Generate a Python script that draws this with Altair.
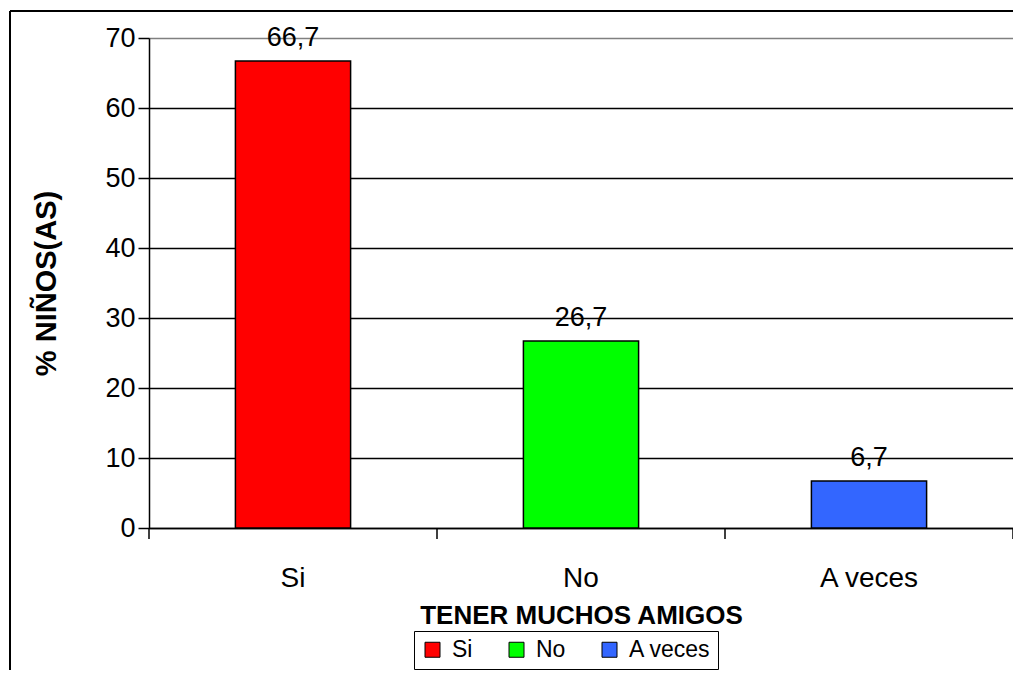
import altair as alt
import pandas as pd

categories = ["Si", "No", "A veces"]
values = [66.7, 26.7, 6.7]
value_labels = ["66,7", "26,7", "6,7"]
colors = ["#FF0000", "#00FF00", "#3366FF"]
y_ticks = [0, 10, 20, 30, 40, 50, 60, 70]
boundaries = [0, 1, 2, 3]

df = pd.DataFrame({"cat": categories, "val": values, "lab": value_labels})
bdf = pd.DataFrame({"b": boundaries})

FONT = "Liberation Sans"
W, H = 864, 490

x_enc = alt.X("cat:N", sort=categories,
              scale=alt.Scale(paddingInner=0, paddingOuter=0),
              axis=alt.Axis(title="TENER MUCHOS AMIGOS", ticks=False, labelAngle=0,
                            labelFontSize=28, labelFont=FONT, labelColor="black",
                            labelBaseline="middle", labelPadding=50,
                            domainColor="black", domainWidth=1.5,
                            titleFont=FONT, titleFontSize=26, titleFontWeight="bold",
                            titleColor="black", titleX=W / 2, titleY=87,
                            titleAlign="center", titleBaseline="middle", grid=False))

y_enc = alt.Y("val:Q",
              scale=alt.Scale(domain=[0, 70], nice=False),
              axis=alt.Axis(title="% NIÑOS(AS)", values=y_ticks, tickSize=11,
                            tickColor="black", tickWidth=1.5,
                            labelFontSize=27, labelFont=FONT, labelColor="black",
                            labelPadding=3, domainColor="black", domainWidth=1.5,
                            grid=True,
                            gridColor={"condition": {"test": "datum.value >= 70", "value": "#808080"},
                                       "value": "black"},
                            gridWidth=1.5,
                            titleFont=FONT, titleFontSize=29, titleFontWeight="bold",
                            titleColor="black", titleAngle=-90, titleX=-103, titleY=H / 2,
                            titleAlign="center", titleBaseline="middle"))

color_enc = alt.Color("cat:N", sort=categories,
                      scale=alt.Scale(domain=categories, range=colors),
                      legend=alt.Legend(title=None, orient="none", legendX=265, legendY=593,
                                        direction="horizontal", symbolType="square",
                                        symbolSize=225, symbolStrokeColor="black",
                                        symbolStrokeWidth=1, symbolOpacity=1,
                                        labelFont=FONT, labelFontSize=23, labelColor="black",
                                        labelOffset=8, columnPadding=32, padding=7,
                                        strokeColor="black", fillColor="white"))

bars = alt.Chart(df).mark_bar(width=alt.RelativeBandSize(0.4), stroke="black",
                              strokeWidth=1.5, opacity=1).encode(
    x=x_enc, y=y_enc, color=color_enc)

text = alt.Chart(df).mark_text(dy=-23, baseline="middle", fontSize=27, font=FONT,
                               color="black").encode(
    x=alt.X("cat:N", sort=categories), y="val:Q", text="lab:N")

main = alt.layer(bars, text)

ticks = alt.Chart(bdf).mark_rule(color="black", strokeWidth=1.5).encode(
    x=alt.X("b:Q", scale=alt.Scale(domain=[0, 3], nice=False), axis=None),
    y=alt.value(H), y2=alt.value(H + 11))

border_v = alt.Chart(bdf.head(1)).mark_rule(color="black", strokeWidth=2).encode(
    x=alt.value(-139), y=alt.value(-27), y2=alt.value(H + 300))
border_h = alt.Chart(bdf.head(1)).mark_rule(color="black", strokeWidth=2).encode(
    x=alt.value(-139), x2=alt.value(W + 200), y=alt.value(-27))

chart = alt.layer(main, ticks, border_v, border_h).resolve_scale(
    x="independent"
).properties(
    width=W, height=H,
    autosize=alt.AutoSizeParams(type="none"),
    padding={"left": 141, "top": 30, "right": 0, "bottom": 142},
).configure_view(stroke="#808080", strokeWidth=1.5).configure(background="white")

chart.save("out.html", embed_options={"renderer": "svg", "actions": False})
